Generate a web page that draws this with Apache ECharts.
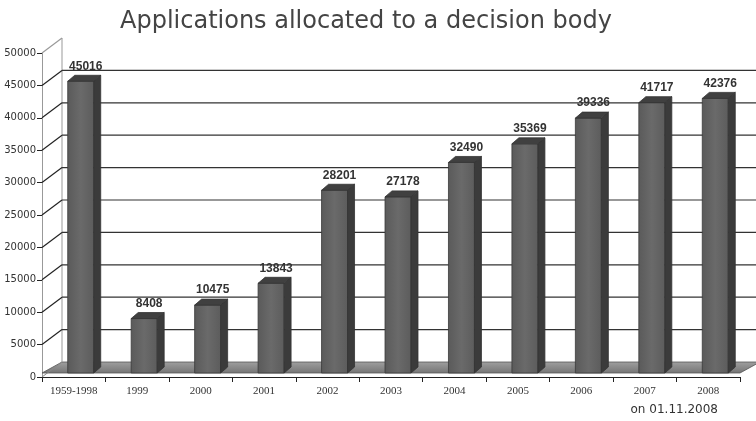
<!DOCTYPE html>
<html><head><meta charset="utf-8">
<script src="https://cdn.jsdelivr.net/npm/echarts@6/dist/echarts.min.js"></script>
<style>html,body{margin:0;padding:0;background:#fff}#c{width:756px;height:421px}</style>
</head><body><div id="c"></div>
<script>
var categories = ['1959-1998','1999','2000','2001','2002','2003','2004','2005','2006','2007','2008'];
var applications = [45016, 8408, 10475, 13843, 28201, 27178, 32490, 35369, 39336, 41717, 42376];
var yTicks = [0,5000,10000,15000,20000,25000,30000,35000,40000,45000,50000];

var DX = 20, DY = -15;   // back wall offset
var BSX = 7, BSY = -4;   // bar placement inside depth
var BW = 26, BD = 7, BDY = -6;

var chart = echarts.init(document.getElementById('c'), null, {renderer:'canvas'});
chart.setOption({
  backgroundColor:'#fff',
  animation:false,
  title:{text:'Applications allocated to a decision body', left:115, top:5,
    textStyle:{fontFamily:'DejaVu Sans', fontSize:24, fontWeight:'normal', color:'#444'}},
  graphic:[{type:'text', right:38, top:404, style:{text:'on 01.11.2008', font:'12px DejaVu Sans', fill:'#333'}}],
  grid:{left:42, right:16, top:53, bottom:44},
  xAxis:{type:'category', data:categories, boundaryGap:true,
    axisLine:{lineStyle:{color:'#222', width:1}},
    axisTick:{show:true, length:5, lineStyle:{color:'#222'}},
    axisLabel:{fontFamily:'Liberation Serif', fontSize:11, color:'#333', margin:9}},
  yAxis:{type:'value', min:0, max:50000, interval:5000,
    axisLine:{show:true, lineStyle:{color:'#999'}},
    axisTick:{show:true, length:5, lineStyle:{color:'#222'}},
    splitLine:{show:false},
    axisLabel:{fontFamily:'DejaVu Sans', fontSize:10, color:'#333', margin:6,
      formatter:function(v){return String(v);}}},
  series:[
    {type:'custom', silent:true, z:1, clip:false,
     data:yTicks.map(function(v){return [0,v];}),
     renderItem:function(params, api){
       var v = api.value(1);
       var p = api.coord([0, v]);
       var bw = api.size([1,0])[0];
       var x0 = p[0] - bw/2;
       var xEnd = api.coord([categories.length-1, v])[0] + bw/2;
       var y = p[1];
       var ch = [];
       if (v === 0) {
         ch.push({type:'polygon', shape:{points:[[x0,y-4],[x0+DX,y+DY],[xEnd+DX,y+DY],[xEnd,y-4]]},
           style:{fill:new echarts.graphic.LinearGradient(0,0,0,1,[{offset:0,color:'#a0a0a0'},{offset:1,color:'#747474'}]), stroke:'#555', lineWidth:0.8}});
         ch.push({type:'line', shape:{x1:x0+DX, y1:y+DY, x2:x0+DX, y2:api.coord([0,50000])[1]+DY}, style:{stroke:'#999', lineWidth:1}});
         ch.push({type:'line', shape:{x1:x0, y1:y, x2:x0+DX, y2:y+DY}, style:{stroke:'#888', lineWidth:1}});
       } else {
         ch.push({type:'line', shape:{x1:x0, y1:y, x2:x0+DX, y2:y+DY}, style:{stroke:v===50000?'#999':'#222', lineWidth:1.2}});
         if (v !== 50000)
           ch.push({type:'line', shape:{x1:x0+DX, y1:y+DY, x2:xEnd+DX, y2:y+DY}, style:{stroke:'#333', lineWidth:1.2}});
       }
       return {type:'group', children:ch};
     }},
    {type:'custom', silent:true, z:3, clip:false,
     data:applications.map(function(v,i){return [i,v];}),
     renderItem:function(params, api){
       var i = api.value(0), v = api.value(1);
       var top = api.coord([i, v]);
       var base = api.coord([i, 0]);
       var cx = top[0] + BSX;
       var xl = cx - BW/2, xr = cx + BW/2;
       var yt = top[1] + BSY, yb = base[1] + BSY;
       return {type:'group', children:[
         {type:'rect', shape:{x:xl, y:yt, width:BW, height:yb-yt},
          style:{fill:new echarts.graphic.LinearGradient(0,0,1,0,[{offset:0,color:'#5a5a5a'},{offset:0.5,color:'#6a6a6a'},{offset:1,color:'#5c5c5c'}]), stroke:'#3a3a3a', lineWidth:0.8}},
         {type:'polygon', shape:{points:[[xr,yt],[xr+BD,yt+BDY],[xr+BD,yb+BDY],[xr,yb]]},
          style:{fill:'#3b3b3b', stroke:'#333', lineWidth:0.8}},
         {type:'polygon', shape:{points:[[xl,yt],[xl+BD,yt+BDY],[xr+BD,yt+BDY],[xr,yt]]},
          style:{fill:'#404040', stroke:'#333', lineWidth:0.8}},
         {type:'text', x:cx+5, y:yt-15,
          style:{text:String(v), font:'bold 12px Liberation Sans', fill:'#333', align:'center', verticalAlign:'middle'}}
       ]};
     }}
  ]
});
</script></body></html>
